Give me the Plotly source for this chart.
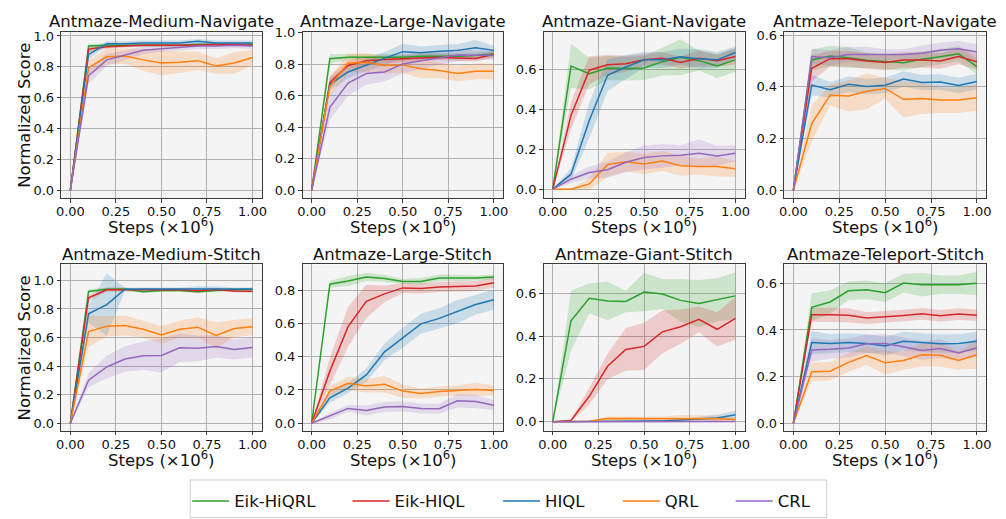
import plotly.graph_objects as go

# Training steps (x 1e6) at which every method was evaluated
STEPS = [0.0, 0.1, 0.2, 0.3, 0.4, 0.5, 0.6, 0.7, 0.8, 0.9, 1.0]
X_TICKS = [0.0, 0.25, 0.5, 0.75, 1.0]

METHODS = ["Eik-HiQRL", "Eik-HIQL", "HIQL", "QRL", "CRL"]
COLORS = {
    "Eik-HiQRL": "#2ca02c",
    "Eik-HIQL": "#d62728",
    "HIQL": "#1f77b4",
    "QRL": "#ff7f0e",
    "CRL": "#9467bd",
}
BAND_COLORS = {
    "Eik-HiQRL": "rgba(44,160,44,0.2)",
    "Eik-HIQL": "rgba(214,39,40,0.2)",
    "HIQL": "rgba(31,119,180,0.2)",
    "QRL": "rgba(255,127,14,0.2)",
    "CRL": "rgba(148,103,189,0.2)",
}

# ---- mean normalized score per task ----
MEDIUM_NAVIGATE = {
    "Eik-HiQRL": [0, 0.935, 0.94, 0.94, 0.94, 0.94, 0.94, 0.945, 0.945, 0.945, 0.945],
    "Eik-HIQL": [0, 0.915, 0.93, 0.935, 0.94, 0.94, 0.94, 0.94, 0.945, 0.945, 0.94],
    "HIQL": [0, 0.88, 0.95, 0.95, 0.955, 0.955, 0.955, 0.965, 0.955, 0.955, 0.955],
    "QRL": [0, 0.795, 0.865, 0.87, 0.845, 0.825, 0.83, 0.84, 0.805, 0.825, 0.86],
    "CRL": [0, 0.742, 0.845, 0.875, 0.908, 0.917, 0.925, 0.935, 0.935, 0.94, 0.935],
}
LARGE_NAVIGATE = {
    "Eik-HiQRL": [0, 0.835, 0.845, 0.845, 0.845, 0.845, 0.85, 0.85, 0.85, 0.855, 0.865],
    "Eik-HIQL": [0, 0.684, 0.792, 0.822, 0.83, 0.835, 0.84, 0.845, 0.84, 0.837, 0.863],
    "HIQL": [0, 0.673, 0.751, 0.792, 0.837, 0.88, 0.873, 0.882, 0.888, 0.904, 0.888],
    "QRL": [0, 0.66, 0.806, 0.812, 0.792, 0.796, 0.771, 0.761, 0.741, 0.755, 0.755],
    "CRL": [0, 0.527, 0.68, 0.741, 0.751, 0.802, 0.822, 0.839, 0.859, 0.857, 0.857],
}
GIANT_NAVIGATE = {
    "Eik-HiQRL": [0, 0.618, 0.58, 0.608, 0.605, 0.608, 0.64, 0.662, 0.645, 0.618, 0.649],
    "Eik-HIQL": [0, 0.37, 0.597, 0.624, 0.629, 0.649, 0.657, 0.636, 0.657, 0.645, 0.666],
    "HIQL": [0, 0.075, 0.345, 0.572, 0.613, 0.649, 0.649, 0.665, 0.654, 0.649, 0.686],
    "QRL": [0, 0.0, 0.026, 0.123, 0.138, 0.126, 0.141, 0.117, 0.114, 0.114, 0.102],
    "CRL": [0, 0.05, 0.083, 0.097, 0.135, 0.159, 0.167, 0.17, 0.18, 0.167, 0.18],
}
TELEPORT_NAVIGATE = {
    "Eik-HiQRL": [0, 0.504, 0.519, 0.513, 0.503, 0.498, 0.493, 0.507, 0.516, 0.528, 0.478],
    "Eik-HIQL": [0, 0.472, 0.509, 0.509, 0.5, 0.494, 0.504, 0.504, 0.5, 0.517, 0.497],
    "HIQL": [0, 0.407, 0.389, 0.41, 0.401, 0.406, 0.43, 0.417, 0.419, 0.405, 0.421],
    "QRL": [0, 0.258, 0.368, 0.365, 0.383, 0.394, 0.352, 0.355, 0.349, 0.349, 0.358],
    "CRL": [0, 0.517, 0.513, 0.525, 0.525, 0.525, 0.525, 0.53, 0.542, 0.547, 0.535],
}
MEDIUM_STITCH = {
    "Eik-HiQRL": [0, 0.923, 0.939, 0.94, 0.921, 0.93, 0.93, 0.921, 0.93, 0.935, 0.939],
    "Eik-HIQL": [0, 0.878, 0.935, 0.935, 0.935, 0.935, 0.935, 0.928, 0.937, 0.926, 0.925],
    "HIQL": [0, 0.766, 0.831, 0.939, 0.94, 0.94, 0.94, 0.945, 0.945, 0.94, 0.94],
    "QRL": [0, 0.642, 0.68, 0.685, 0.658, 0.619, 0.658, 0.673, 0.615, 0.664, 0.676],
    "CRL": [0, 0.302, 0.394, 0.45, 0.473, 0.475, 0.529, 0.525, 0.538, 0.516, 0.53],
}
LARGE_STITCH = {
    "Eik-HiQRL": [0, 0.835, 0.854, 0.879, 0.87, 0.852, 0.852, 0.873, 0.873, 0.873, 0.879],
    "Eik-HIQL": [0, 0.313, 0.58, 0.732, 0.777, 0.813, 0.81, 0.819, 0.821, 0.825, 0.844],
    "HIQL": [0, 0.153, 0.211, 0.29, 0.429, 0.514, 0.597, 0.63, 0.671, 0.713, 0.742],
    "QRL": [0, 0.193, 0.24, 0.224, 0.234, 0.193, 0.178, 0.191, 0.197, 0.203, 0.197],
    "CRL": [0, 0.043, 0.089, 0.077, 0.097, 0.1, 0.089, 0.087, 0.135, 0.13, 0.108],
}
GIANT_STITCH = {
    "Eik-HiQRL": [0, 0.472, 0.577, 0.564, 0.562, 0.606, 0.597, 0.567, 0.552, 0.57, 0.588],
    "Eik-HIQL": [0, 0.006, 0.119, 0.259, 0.338, 0.352, 0.42, 0.444, 0.478, 0.432, 0.483],
    "HIQL": [0, 0.0, 0.002, 0.003, 0.003, 0.003, 0.004, 0.008, 0.012, 0.018, 0.033],
    "QRL": [0, 0.0, 0.002, 0.015, 0.015, 0.013, 0.015, 0.016, 0.015, 0.014, 0.01],
    "CRL": [0, 0.0, 0.001, 0.001, 0.001, 0.001, 0.001, 0.001, 0.001, 0.001, 0.001],
}
TELEPORT_STITCH = {
    "Eik-HiQRL": [0, 0.497, 0.52, 0.568, 0.572, 0.56, 0.601, 0.594, 0.594, 0.594, 0.6],
    "Eik-HIQL": [0, 0.465, 0.465, 0.463, 0.451, 0.455, 0.462, 0.469, 0.461, 0.468, 0.463],
    "HIQL": [0, 0.346, 0.342, 0.346, 0.342, 0.331, 0.352, 0.348, 0.341, 0.342, 0.352],
    "QRL": [0, 0.221, 0.223, 0.261, 0.29, 0.259, 0.269, 0.294, 0.292, 0.269, 0.294],
    "CRL": [0, 0.314, 0.317, 0.323, 0.341, 0.342, 0.328, 0.312, 0.32, 0.301, 0.324],
}

# ---- half-width of the shaded band around each mean ----
MEDIUM_NAVIGATE_SPREAD = {
    "Eik-HiQRL": [0, 0.015, 0.01, 0.01, 0.01, 0.01, 0.01, 0.01, 0.01, 0.01, 0.01],
    "Eik-HIQL": [0, 0.02, 0.015, 0.01, 0.01, 0.01, 0.01, 0.01, 0.01, 0.01, 0.01],
    "HIQL": [0, 0.03, 0.015, 0.015, 0.015, 0.015, 0.015, 0.015, 0.015, 0.015, 0.015],
    "QRL": [0, 0.05, 0.05, 0.05, 0.07, 0.08, 0.07, 0.06, 0.05, 0.07, 0.05],
    "CRL": [0, 0.05, 0.04, 0.03, 0.025, 0.02, 0.02, 0.02, 0.02, 0.02, 0.02],
}
LARGE_NAVIGATE_SPREAD = {
    "Eik-HiQRL": [0, 0.03, 0.02, 0.02, 0.02, 0.02, 0.02, 0.02, 0.02, 0.02, 0.02],
    "Eik-HIQL": [0, 0.04, 0.03, 0.03, 0.025, 0.02, 0.02, 0.02, 0.02, 0.02, 0.02],
    "HIQL": [0, 0.04, 0.04, 0.04, 0.04, 0.05, 0.04, 0.04, 0.04, 0.05, 0.03],
    "QRL": [0, 0.06, 0.06, 0.06, 0.05, 0.05, 0.06, 0.05, 0.05, 0.05, 0.05],
    "CRL": [0, 0.08, 0.08, 0.07, 0.06, 0.06, 0.05, 0.04, 0.04, 0.03, 0.03],
}
GIANT_NAVIGATE_SPREAD = {
    "Eik-HiQRL": [0, 0.11, 0.08, 0.06, 0.06, 0.06, 0.07, 0.09, 0.05, 0.06, 0.06],
    "Eik-HIQL": [0, 0.07, 0.07, 0.05, 0.04, 0.03, 0.03, 0.03, 0.04, 0.03, 0.04],
    "HIQL": [0, 0.03, 0.09, 0.08, 0.06, 0.04, 0.04, 0.04, 0.05, 0.04, 0.03],
    "QRL": [0, 0.0, 0.03, 0.06, 0.05, 0.05, 0.05, 0.05, 0.04, 0.05, 0.04],
    "CRL": [0, 0.02, 0.03, 0.04, 0.05, 0.06, 0.06, 0.05, 0.07, 0.05, 0.04],
}
TELEPORT_NAVIGATE_SPREAD = {
    "Eik-HiQRL": [0, 0.04, 0.04, 0.04, 0.03, 0.03, 0.03, 0.03, 0.03, 0.03, 0.03],
    "Eik-HIQL": [0, 0.05, 0.03, 0.03, 0.03, 0.03, 0.03, 0.03, 0.03, 0.03, 0.03],
    "HIQL": [0, 0.04, 0.03, 0.03, 0.03, 0.03, 0.03, 0.03, 0.03, 0.03, 0.03],
    "QRL": [0, 0.07, 0.04, 0.06, 0.07, 0.04, 0.07, 0.06, 0.05, 0.05, 0.05],
    "CRL": [0, 0.03, 0.03, 0.03, 0.03, 0.02, 0.02, 0.03, 0.03, 0.03, 0.03],
}
MEDIUM_STITCH_SPREAD = {
    "Eik-HiQRL": [0, 0.015, 0.01, 0.01, 0.01, 0.01, 0.01, 0.01, 0.01, 0.01, 0.01],
    "Eik-HIQL": [0, 0.02, 0.015, 0.01, 0.01, 0.01, 0.01, 0.015, 0.01, 0.01, 0.01],
    "HIQL": [0, 0.06, 0.22, 0.01, 0.01, 0.01, 0.01, 0.015, 0.015, 0.01, 0.01],
    "QRL": [0, 0.11, 0.07, 0.07, 0.06, 0.06, 0.06, 0.07, 0.09, 0.06, 0.06],
    "CRL": [0, 0.05, 0.08, 0.09, 0.1, 0.12, 0.1, 0.09, 0.08, 0.07, 0.07],
}
LARGE_STITCH_SPREAD = {
    "Eik-HiQRL": [0, 0.02, 0.03, 0.025, 0.02, 0.015, 0.02, 0.02, 0.02, 0.015, 0.015],
    "Eik-HIQL": [0, 0.08, 0.12, 0.1, 0.05, 0.03, 0.03, 0.03, 0.03, 0.03, 0.03],
    "HIQL": [0, 0.03, 0.03, 0.04, 0.05, 0.06, 0.06, 0.06, 0.07, 0.06, 0.06],
    "QRL": [0, 0.03, 0.04, 0.04, 0.05, 0.04, 0.03, 0.03, 0.03, 0.04, 0.03],
    "CRL": [0, 0.02, 0.02, 0.03, 0.03, 0.03, 0.03, 0.03, 0.04, 0.04, 0.03],
}
GIANT_STITCH_SPREAD = {
    "Eik-HiQRL": [0, 0.14, 0.07, 0.09, 0.05, 0.09, 0.07, 0.1, 0.11, 0.1, 0.11],
    "Eik-HIQL": [0, 0.005, 0.04, 0.06, 0.1, 0.11, 0.1, 0.08, 0.06, 0.08, 0.1],
    "HIQL": [0, 0, 0, 0, 0, 0.002, 0.003, 0.005, 0.01, 0.015, 0.02],
    "QRL": [0, 0, 0.003, 0.01, 0.01, 0.01, 0.01, 0.015, 0.015, 0.015, 0.01],
    "CRL": [0, 0, 0, 0, 0, 0, 0, 0, 0, 0, 0],
}
TELEPORT_STITCH_SPREAD = {
    "Eik-HiQRL": [0, 0.06, 0.05, 0.04, 0.04, 0.04, 0.04, 0.05, 0.04, 0.04, 0.05],
    "Eik-HIQL": [0, 0.03, 0.03, 0.03, 0.025, 0.025, 0.025, 0.025, 0.025, 0.025, 0.025],
    "HIQL": [0, 0.05, 0.04, 0.04, 0.04, 0.04, 0.04, 0.04, 0.04, 0.04, 0.04],
    "QRL": [0, 0.04, 0.04, 0.04, 0.04, 0.05, 0.04, 0.05, 0.05, 0.04, 0.06],
    "CRL": [0, 0.05, 0.04, 0.04, 0.04, 0.04, 0.04, 0.04, 0.04, 0.03, 0.04],
}

# (title, means, spreads, y range, y tick values) in reading order
PANELS = [
    ("Antmaze-Medium-Navigate", MEDIUM_NAVIGATE, MEDIUM_NAVIGATE_SPREAD, [-0.05, 1.027], [0, 0.2, 0.4, 0.6, 0.8, 1.0]),
    ("Antmaze-Large-Navigate", LARGE_NAVIGATE, LARGE_NAVIGATE_SPREAD, [-0.049, 1.006], [0, 0.2, 0.4, 0.6, 0.8, 1.0]),
    ("Antmaze-Giant-Navigate", GIANT_NAVIGATE, GIANT_NAVIGATE_SPREAD, [-0.045, 0.79], [0, 0.2, 0.4, 0.6]),
    ("Antmaze-Teleport-Navigate", TELEPORT_NAVIGATE, TELEPORT_NAVIGATE_SPREAD, [-0.03, 0.613], [0, 0.2, 0.4, 0.6]),
    ("Antmaze-Medium-Stitch", MEDIUM_STITCH, MEDIUM_STITCH_SPREAD, [-0.052, 1.112], [0, 0.2, 0.4, 0.6, 0.8, 1.0]),
    ("Antmaze-Large-Stitch", LARGE_STITCH, LARGE_STITCH_SPREAD, [-0.045, 0.954], [0, 0.2, 0.4, 0.6, 0.8]),
    ("Antmaze-Giant-Stitch", GIANT_STITCH, GIANT_STITCH_SPREAD, [-0.042, 0.735], [0, 0.2, 0.4, 0.6]),
    ("Antmaze-Teleport-Stitch", TELEPORT_STITCH, TELEPORT_STITCH_SPREAD, [-0.032, 0.681], [0, 0.2, 0.4, 0.6]),
]

W, H = 1006, 519
FONT = "DejaVu Sans"
FRAME = "#3a3a3a"

# subplot boxes in pixels: columns (left, right), rows (top, bottom)
COLS = [(56.8, 259.2), (300.5, 503.0), (544.0, 747.0), (787.0, 991.0)]
ROWS = [(26.7, 199.0), (267.7, 440.0)]

fig = go.Figure()
layout = {}
annotations = []

for idx, (title, means, spreads, yr, yticks) in enumerate(PANELS):
    r, c = divmod(idx, 4)
    n = idx + 1
    xa = "x" if n == 1 else f"x{n}"
    ya = "y" if n == 1 else f"y{n}"
    xl, xr = COLS[c]
    yt, yb = ROWS[r]
    xdom = [xl / W, xr / W]
    ydom = [1 - yb / H, 1 - yt / H]

    for m in METHODS:
        mu = means[m]
        sd = spreads[m]
        upper = [a + b for a, b in zip(mu, sd)]
        lower = [a - b for a, b in zip(mu, sd)]
        fig.add_trace(go.Scatter(
            x=STEPS + STEPS[::-1], y=upper + lower[::-1],
            fill="toself", fillcolor=BAND_COLORS[m],
            line=dict(width=0), mode="lines", hoverinfo="skip",
            showlegend=False, xaxis=xa, yaxis=ya,
        ))
    for k, m in enumerate(METHODS):
        fig.add_trace(go.Scatter(
            x=STEPS, y=means[m], mode="lines", name=m,
            line=dict(color=COLORS[m], width=1.5),
            showlegend=(idx == 0),
            legend="legend" if k == 0 else f"legend{k + 1}",
            xaxis=xa, yaxis=ya,
        ))

    common = dict(
        showgrid=True, gridcolor="#b0b0b0", gridwidth=1,
        zeroline=False, showline=True, mirror=True,
        linecolor=FRAME, linewidth=1,
        ticks="outside", ticklen=3.5, tickcolor=FRAME, tickwidth=1,
        tickfont=dict(family=FONT, size=13, color="#111"),
    )
    layout["xaxis" if n == 1 else f"xaxis{n}"] = dict(
        domain=xdom, anchor=ya, range=[-0.05, 1.05],
        tickvals=X_TICKS, tickformat=".2f", ticklabelstandoff=-2, **common,
    )
    layout["yaxis" if n == 1 else f"yaxis{n}"] = dict(
        domain=ydom, anchor=xa, range=yr,
        tickvals=yticks, tickformat=".1f", **common,
    )

    cx = (xl + xr) / 2 / W
    annotations.append(dict(
        text=title, x=cx, y=1 - (yt - 10.5) / H, xref="paper", yref="paper",
        xanchor="center", yanchor="middle", showarrow=False,
        font=dict(family=FONT, size=16.5, color="#111"),
    ))
    annotations.append(dict(
        text="Steps (×10<sup>6</sup>)", x=cx, y=1 - (yb + 29) / H,
        xref="paper", yref="paper", xanchor="center", yanchor="middle",
        showarrow=False, font=dict(family=FONT, size=16.5, color="#111"),
    ))
    if c == 0:
        annotations.append(dict(
            text="Normalized Score", x=20 / W, y=1 - (yt + yb) / 2 / H,
            xref="paper", yref="paper", xanchor="center", yanchor="middle",
            textangle=-90, showarrow=False,
            font=dict(family=FONT, size=16.5, color="#111"),
        ))

# one legend per method so that each entry sits at its own spot in the box
LEGEND_X = [184, 346, 498, 619, 733]
for k, px in enumerate(LEGEND_X):
    key = "legend" if k == 0 else f"legend{k + 1}"
    layout[key] = dict(
        x=px / W, y=1 - 495 / H, xanchor="left", yanchor="top",
        orientation="h", bgcolor="rgba(0,0,0,0)", borderwidth=0,
        itemwidth=37, font=dict(family=FONT, size=16.5, color="#111"),
    )

fig.update_layout(
    width=W, height=H, margin=dict(l=0, r=0, t=0, b=0),
    paper_bgcolor="white", plot_bgcolor="#f4f4f4",
    annotations=annotations,
    shapes=[dict(
        type="rect", xref="paper", yref="paper",
        x0=187 / W, x1=830 / W, y0=1 - 530 / H, y1=1 - 491 / H,
        line=dict(color="#cccccc", width=1), fillcolor="rgba(255,255,255,0.8)",
        layer="below",
    )],
    **layout,
)

fig.write_html("out.html")
